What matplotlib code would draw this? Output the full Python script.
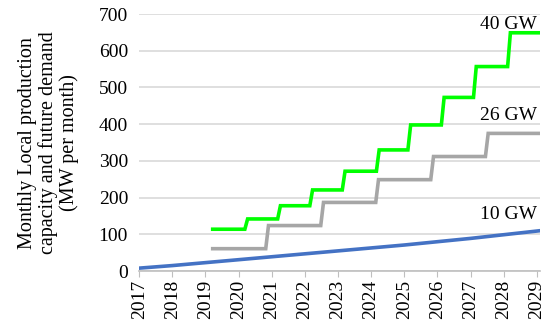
import numpy as np
import matplotlib.pyplot as plt

plt.rcParams['font.family'] = ['Liberation Serif', 'DejaVu Serif']

# blue line: 10 GW demand
years_10 = [2017, 2018, 2019, 2020, 2021, 2022, 2023, 2024, 2025, 2026, 2027, 2028, 2029.1]
vals_10 = [8, 15, 23, 31, 39, 47, 55, 63, 71, 80, 89, 99, 110]

# green steps: 40 GW
steps_40 = [2019.22, 2020.19, 2021.18, 2022.15, 2023.13, 2024.16, 2025.11, 2026.12, 2027.09, 2028.12]
vals_40 = [114, 142, 178, 221, 272, 330, 398, 473, 557, 649]

# gray steps: 26 GW
steps_26 = [2019.22, 2020.82, 2022.48, 2024.14, 2025.80, 2027.45]
vals_26 = [61, 124, 187, 249, 312, 375]

x_end = 2029.1
year_ticks = list(range(2017, 2030))


def step_line(starts, vals, end):
    # monthly data, so each jump takes about one month
    xs, ys = [starts[0]], [vals[0]]
    for i in range(1, len(starts)):
        xs += [starts[i], starts[i] + 1 / 12]
        ys += [vals[i - 1], vals[i]]
    xs.append(end)
    ys.append(vals[-1])
    return xs, ys


fig = plt.figure(figsize=(5.5, 3.27), dpi=100)
ax = fig.add_axes([0.253, 0.171, 0.729, 0.786])

ax.grid(True, axis='y', color='#d9d9d9', linewidth=1.2)
ax.set_axisbelow(True)

x40, y40 = step_line(steps_40, vals_40, x_end)
x26, y26 = step_line(steps_26, vals_26, x_end)
ax.plot(x40, y40, color='#00ff00', linewidth=2.6, solid_joinstyle='miter')
ax.plot(x26, y26, color='#a6a6a6', linewidth=2.6, solid_joinstyle='miter')
ax.plot(years_10, vals_10, color='#4472c4', linewidth=2.6)

ax.text(2029.0, 672, '40 GW', ha='right', va='center', fontsize=14)
ax.text(2029.0, 425, '26 GW', ha='right', va='center', fontsize=14)
ax.text(2029.0, 155, '10 GW', ha='right', va='center', fontsize=14)

ax.set_xlim(2017, x_end)
ax.set_ylim(0, 700)
ax.set_yticks(range(0, 701, 100))
ax.set_xticks(year_ticks)
ax.set_xticklabels([str(y) for y in year_ticks], rotation=90)
ax.tick_params(axis='y', length=0, labelsize=14, pad=8)
ax.tick_params(axis='x', length=4, color='#bfbfbf', labelsize=14, pad=2)

for s in ['top', 'right', 'left']:
    ax.spines[s].set_visible(False)
ax.spines['bottom'].set_color('#bfbfbf')
ax.spines['bottom'].set_linewidth(1.2)

ax.set_ylabel('Monthly Local production\ncapacity and future demand\n(MW per month)',
              fontsize=14.5, linespacing=1.1, labelpad=14)

fig.savefig('out.png', dpi=100)
